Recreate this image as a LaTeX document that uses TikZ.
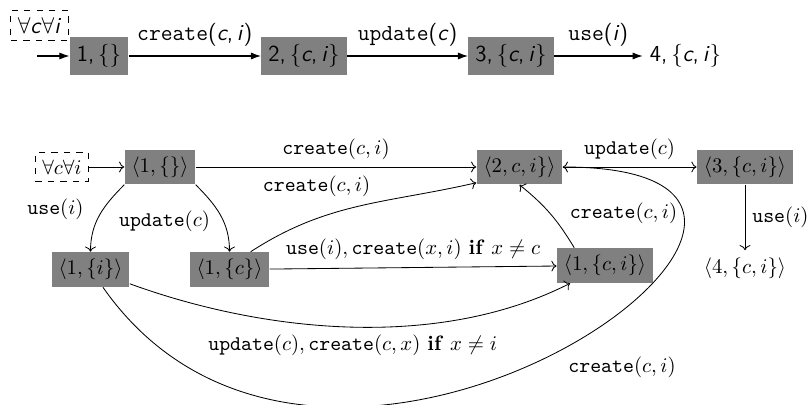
\documentclass[tikz,border=0pt]{standalone}
\usepackage{tikz}
\usetikzlibrary{arrows,arrows.meta}
\usepackage{amssymb}
\usepackage{amsmath}

\begin{document}
\begin{tikzpicture}[x=0.48pt,y=0.48pt,
  sans/.style={font=\sffamily\fontsize{11}{13}\selectfont},
  sstate/.style={sans,fill=gray,minimum height=18.2pt,inner xsep=3.4pt},
  sarrow/.style={line width=0.5pt,-{Latex[length=4.8pt,width=3.4pt]}},
  state/.style={fill=gray},
  forall/.style={draw,dashed}]
\useasboundingbox (0,0) rectangle (812,-405);
% run
\node[forall,sans] (sq) at (39.5,-25.5) {$\forall$\textit{c}$\forall$\textit{i}};
\coordinate (s0) at (37,-56);
\node[sstate] (s1) at (99,-56) {1,\,\{\}};
\node[sstate] (s2) at (304,-56) {2,\,\{\textit{c},\,\textit{i}\}};
\node[sstate] (s3) at (511,-56) {3,\,\{\textit{c},\,\textit{i}\}};
\node[sans] (s4) at (685.5,-56) {4,\,\{\textit{c},\,\textit{i}\}};
\draw[sarrow] (s0) -- (s1);
\draw[sarrow] (s1) -- node[sans,above=1pt] {\texttt{create}(\textit{c},\,\textit{i})} (s2);
\draw[sarrow] (s2) -- node[sans,above=1pt] {\texttt{update}(\textit{c})} (s3);
\draw[sarrow] (s3) -- node[sans,above=1pt] {\texttt{use}(\textit{i})} (s4);
% automaton
\node[forall] (q) at (62,-167) {$\forall c \forall i$};
\node[state] (a) at (160,-167) {$\langle 1, \{\}\rangle$};
\node[state] (b) at (519.5,-167) {$\langle 2, c, i\}\rangle$};
\node[state] (c) at (745,-167) {$\langle 3, \{c, i\}\rangle$};
\node (d) at (745,-268) {$\langle 4, \{c, i\}\rangle$};
\node[state] (e) at (90.5,-269.5) {$\langle 1, \{i\}\rangle$};
\node[state] (f) at (229.5,-269.5) {$\langle 1, \{c\}\rangle$};
\node[state] (g) at (605,-265.5) {$\langle 1, \{c, i\}\rangle$};
\draw[->] (q) -- (a);
\draw[->] (a) -- node[above] {$\texttt{create}(c,i)$} (b);
\draw[->] (b) -- node[above] {$\texttt{update}(c)$} (c);
\draw[->] (c) -- node[right] {$\texttt{use}(i)$} (d);
\draw[->] (a.south west) to[out=-135,in=90] node[left=6pt,pos=0.4] {$\texttt{use}(i)$} (e.north);
\draw[->] (a.south east) to[out=-45,in=90] node[left=3pt,pos=0.6] {$\texttt{update}(c)$} (f.north);
\draw[->] (f.40) to[out=33,in=193] node[above=7pt,pos=0.3] {$\texttt{create}(c,i)$} (b.200);
\draw[->] (f) -- node[above] {$\texttt{use}(i), \texttt{create}(x,i)$ \textbf{if} $x \neq c$} (g);
\draw[->] (g.150) to[bend right=10] node[right=6pt] {$\texttt{create}(c,i)$} (b.south);
\draw[->] (e) to[out=-20,in=-153,looseness=0.85] node[below] {$\texttt{update}(c), \texttt{create}(c,x)$ \textbf{if} $x \neq i$} (g);
\draw[->] (e) to[out=-55,in=0,out distance=192pt,in distance=182pt] node[below right,pos=0.5] {$\texttt{create}(c,i)$} (b);
\end{tikzpicture}
\end{document}
